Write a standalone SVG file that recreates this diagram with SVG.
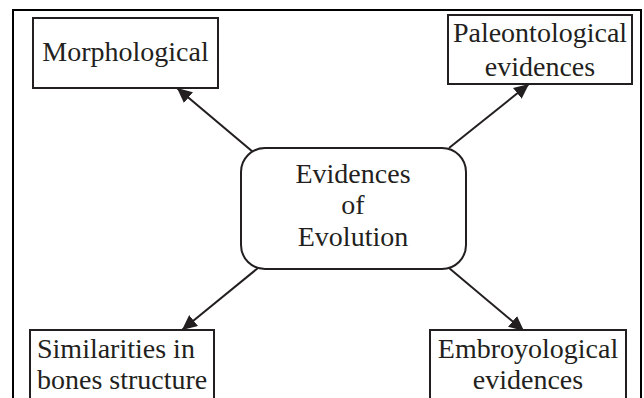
<svg xmlns="http://www.w3.org/2000/svg" width="644" height="398" viewBox="0 0 644 398">
<style>
.box{fill:#fff;stroke:#231f20;stroke-width:2}
.t{font-family:"Liberation Serif","Times New Roman",serif;font-size:28px;fill:#231f20}
.c{text-anchor:middle}
.conn{stroke:#231f20;stroke-width:2;fill:none;marker-end:url(#ah)}
</style>
<defs>
<marker id="ah" markerUnits="userSpaceOnUse" markerWidth="16" markerHeight="14" viewBox="0 0 16 14" refX="15" refY="7" orient="auto">
<path d="M0,0 L15,7 L0,14 Z" fill="#231f20"/>
</marker>
</defs>
<rect width="644" height="398" fill="#fff"/>
<path d="M13,400 V10 H641 V400" fill="none" stroke="#000" stroke-width="2"/>
<g id="connectors">
<line class="conn" x1="253" y1="152" x2="177" y2="88"/>
<line class="conn" x1="449" y1="148" x2="529" y2="84"/>
<line class="conn" x1="258" y1="268" x2="182" y2="330"/>
<line class="conn" x1="449" y1="268" x2="524" y2="331"/>
</g>
<g id="center">
<rect class="box" x="241" y="148" width="225" height="121" rx="24" ry="24"/>
<text class="t c" x="353" y="183">Evidences</text>
<text class="t c" x="353" y="214">of</text>
<text class="t c" x="353" y="246">Evolution</text>
</g>
<g id="morphological">
<rect class="box" x="33" y="18" width="185" height="70"/>
<text class="t c" x="125.5" y="61">Morphological</text>
</g>
<g id="paleontological">
<rect class="box" x="448" y="15" width="184" height="69"/>
<text class="t c" x="540" y="42">Paleontological</text>
<text class="t c" x="540" y="76">evidences</text>
</g>
<g id="similarities">
<rect class="box" x="30" y="330" width="184" height="80"/>
<text class="t" x="37" y="358">Similarities in</text>
<text class="t" x="37" y="389">bones structure</text>
</g>
<g id="embryological">
<rect class="box" x="430" y="330" width="196" height="80"/>
<text class="t c" x="528" y="358">Embroyological</text>
<text class="t c" x="528" y="389">evidences</text>
</g>
</svg>
